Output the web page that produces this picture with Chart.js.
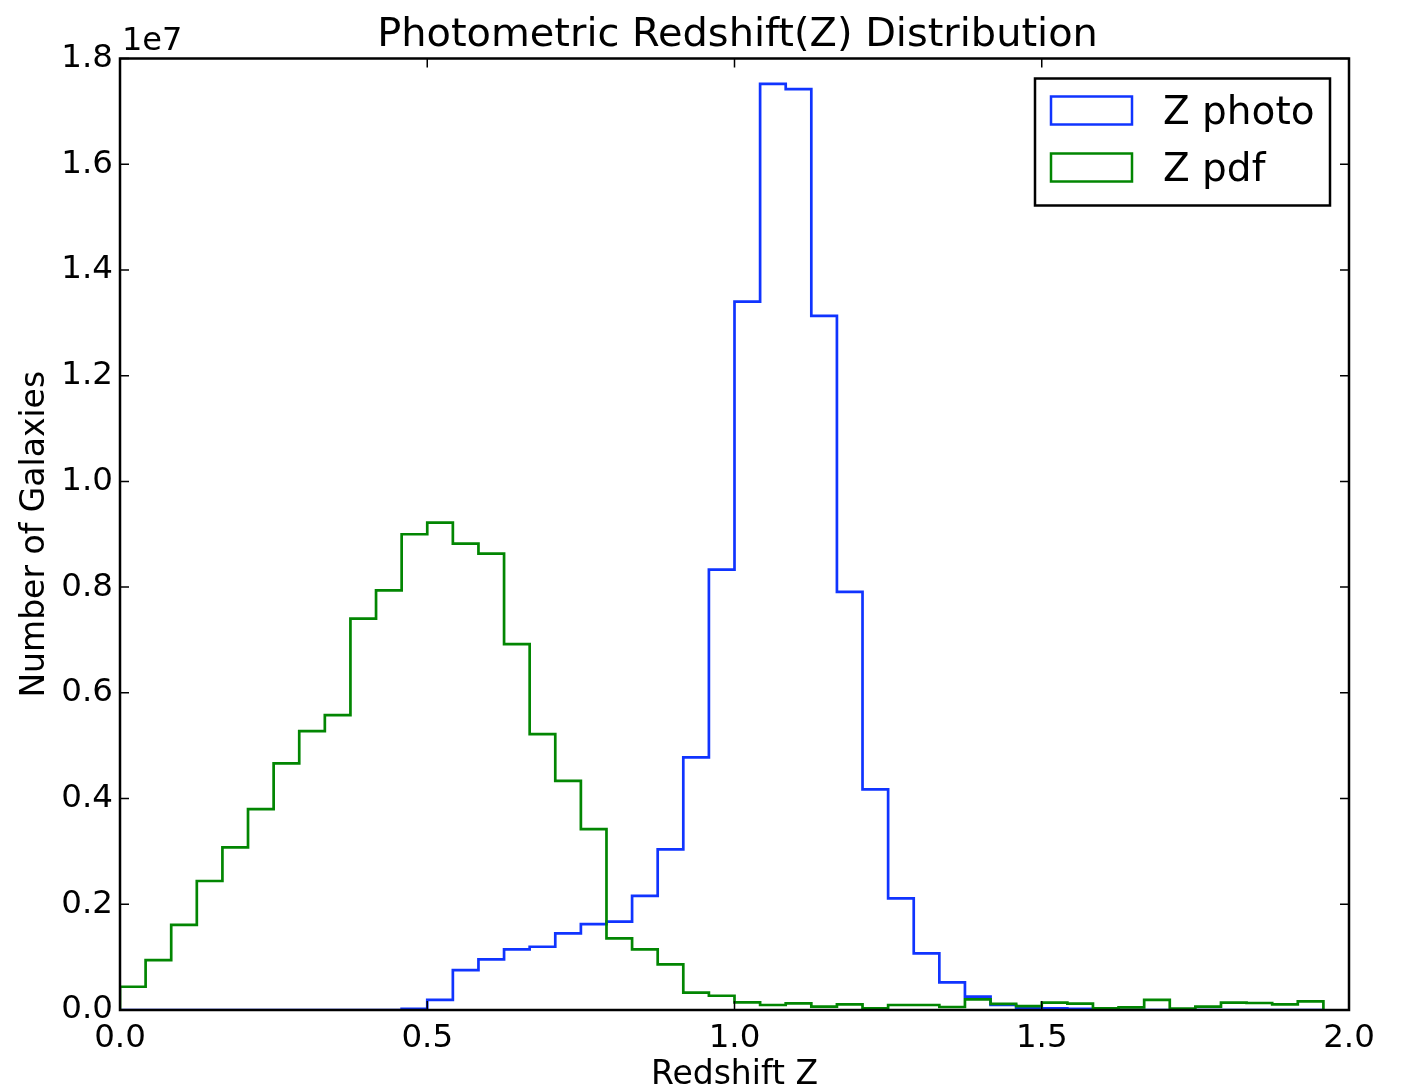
<!DOCTYPE html>
<html>
<head>
<meta charset="utf-8">
<title>Photometric Redshift(Z) Distribution</title>
<script src="https://cdn.jsdelivr.net/npm/chart.js@4.4.0/dist/chart.umd.min.js"></script>
<style>
html, body { margin: 0; padding: 0; background: #fff; }
#wrap { width: 1403px; height: 1090px; }
</style>
</head>
<body>
<div id="wrap"><canvas id="histChart"></canvas></div>
<script>
// bins: 47 bins of width 1/24 starting at z = 0
const binWidth = 1 / 24;
const binCount = 47;

// galaxy counts per bin
const zPhoto = [
    0, 0, 0, 0, 0, 0, 0, 0, 0, 0,
    0, 20000, 190000, 756000, 958000, 1147000, 1197000, 1450000, 1626000, 1670000,
    2160000, 3038000, 4778000, 8332000, 13400000, 17520000, 17420000, 13130000, 7910000, 4173000,
    2112000, 1072000, 523000, 252000, 95000, 30000, 30000, 20000, 0, 0,
    0, 0, 0, 0, 0, 0, 0
];
const zPdf = [
    440000, 945000, 1610000, 2440000, 3076000, 3800000, 4664000, 5275000, 5578000, 7405000,
    7940000, 9000000, 9220000, 8824000, 8635000, 6920000, 5218000, 4336000, 3420000, 1355000,
    1147000, 864000, 328000, 270000, 145000, 95000, 126000, 63000, 107000, 30000,
    95000, 95000, 57000, 200000, 115000, 73000, 138000, 120000, 30000, 50000,
    190000, 25000, 63000, 138000, 132000, 107000, 164000
];

// axis ticks
const xTickValues = [0, 0.5, 1.0, 1.5, 2.0];
const yTickValues = [0, 2e6, 4e6, 6e6, 8e6, 10e6, 12e6, 14e6, 16e6, 18e6];

const chartTitle = 'Photometric Redshift(Z) Distribution';

// outline of a step histogram: points at right bin edges
function stepPoints(counts) {
    var pts = [{x: 0, y: 0}];
    for (let i = 0; i < counts.length; i++) {
        pts.push({x: (i + 1) * binWidth, y: counts[i]});
    }
    pts.push({x: counts.length * binWidth, y: 0});
    return pts;
}

const fontFamily = 'DejaVu Sans';
Chart.defaults.font.family = fontFamily;
Chart.defaults.color = '#000';

// frame + inward ticks on all four sides, like matplotlib classic
const frameTicks = {
    id: 'frameTicks',
    afterDatasetsDraw(chart) {
        const ctx = chart.ctx;
        const a = chart.chartArea;
        const x = chart.scales.x, y = chart.scales.y;
        const len = 9;
        ctx.save();
        ctx.strokeStyle = '#000';
        ctx.lineWidth = 1.5;
        ctx.beginPath();
        xTickValues.forEach(v => {
            const px = x.getPixelForValue(v);
            ctx.moveTo(px, a.bottom); ctx.lineTo(px, a.bottom - len);
            ctx.moveTo(px, a.top); ctx.lineTo(px, a.top + len);
        });
        yTickValues.forEach(v => {
            const py = y.getPixelForValue(v);
            ctx.moveTo(a.left, py); ctx.lineTo(a.left + len, py);
            ctx.moveTo(a.right, py); ctx.lineTo(a.right - len, py);
        });
        ctx.stroke();
        ctx.lineWidth = 2.5;
        ctx.strokeRect(a.left, a.top, a.right - a.left, a.bottom - a.top);

        ctx.fillStyle = '#000';
        ctx.textBaseline = 'alphabetic';
        // title, centred over the plot area
        ctx.font = '39.9px "' + fontFamily + '"';
        ctx.textAlign = 'center';
        ctx.fillText(chartTitle, (a.left + a.right) / 2 + 3, 46);
        // offset text
        ctx.font = '32px "' + fontFamily + '"';
        ctx.textAlign = 'left';
        ctx.fillText('1e7', a.left + 2, a.top - 9);
        ctx.restore();
    }
};

// legend box in the upper right corner
const boxLegend = {
    id: 'boxLegend',
    afterDraw(chart) {
        const ctx = chart.ctx;
        const a = chart.chartArea;
        const sets = chart.data.datasets;
        const boxRight = a.right - 19, boxTop = a.top + 20;
        const boxW = 295, boxH = 127;
        ctx.save();
        ctx.fillStyle = '#fff';
        ctx.fillRect(boxRight - boxW, boxTop, boxW, boxH);
        ctx.strokeStyle = '#000';
        ctx.lineWidth = 2.5;
        ctx.strokeRect(boxRight - boxW, boxTop, boxW, boxH);
        ctx.font = '39px "' + fontFamily + '"';
        ctx.textAlign = 'left';
        ctx.textBaseline = 'middle';
        for (let i = 0; i < sets.length; i++) {
            const cy = boxTop + 32 + i * 57;
            ctx.strokeStyle = sets[i].borderColor;
            ctx.lineWidth = 2.5;
            ctx.strokeRect(boxRight - boxW + 16, cy - 14, 81, 28);
            ctx.fillStyle = '#000';
            ctx.fillText(sets[i].label, boxRight - boxW + 128, cy + 3);
        }
        ctx.restore();
    }
};

const histConfig = {
    type: 'line',
    data: {
        datasets: [{
            label: 'Z photo',
            data: stepPoints(zPhoto),
            borderColor: '#1034ff',
            borderWidth: 2.7,
            pointRadius: 0,
            fill: false,
            stepped: 'after',
            order: 2
        }, {
            label: 'Z pdf',
            data: stepPoints(zPdf),
            borderColor: '#028602',
            borderWidth: 2.7,
            pointRadius: 0,
            fill: false,
            stepped: 'after',
            order: 1
        }]
    },
    options: {
        responsive: true,
        maintainAspectRatio: false,
        animation: false,
        events: [],
        layout: {padding: {left: 0, right: 54, top: 58.5, bottom: 0}},
        plugins: {
            legend: {display: false},
            tooltip: {enabled: false},
            title: {display: false}
        },
        scales: {
            x: {
                type: 'linear',
                min: 0,
                max: 2,
                grid: {display: false, drawTicks: false, tickLength: 0},
                border: {display: false},
                afterBuildTicks: scale => { scale.ticks = xTickValues.map(v => ({value: v})); },
                ticks: {
                    padding: 9,
                    maxRotation: 0,
                    font: {size: 32.5},
                    color: '#000',
                    callback: v => v.toFixed(1)
                },
                title: {
                    display: true,
                    text: 'Redshift Z',
                    color: '#000',
                    font: {size: 33},
                    padding: {top: 0, bottom: -5}
                },
                afterFit: scale => { scale.height = 80; }
            },
            y: {
                type: 'linear',
                min: 0,
                max: 1.8e7,
                grid: {display: false, drawTicks: false, tickLength: 0},
                border: {display: false},
                afterBuildTicks: scale => { scale.ticks = yTickValues.map(v => ({value: v})); },
                ticks: {
                    padding: 7,
                    font: {size: 32.5},
                    color: '#000',
                    callback: v => (v / 1e7).toFixed(1)
                },
                title: {
                    display: true,
                    text: 'Number of Galaxies',
                    color: '#000',
                    font: {size: 33},
                    padding: {top: 16, bottom: 0}
                },
                afterFit: scale => { scale.width = 120; }
            }
        }
    },
    plugins: [frameTicks, boxLegend]
};

const histChart = new Chart(document.getElementById('histChart'), histConfig);
</script>
</body>
</html>
